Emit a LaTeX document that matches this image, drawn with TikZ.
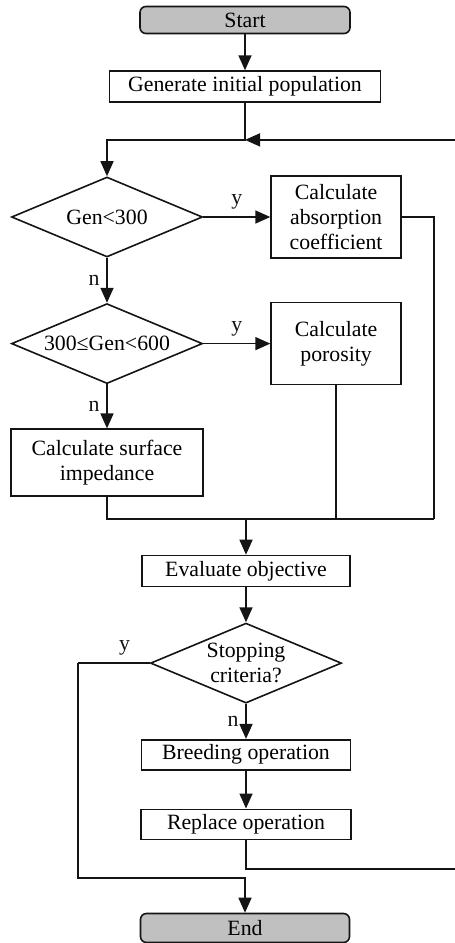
\documentclass[tikz,border=0pt]{standalone}
\usepackage{fontspec}
\setmainfont{Liberation Serif}
\usetikzlibrary{arrows.meta,positioning,calc,shapes.geometric}
\definecolor{termgray}{RGB}{192,192,192}
\definecolor{linegray}{RGB}{20,20,20}
\tikzset{
  every node/.style={font=\fontsize{10.9}{12.5}\selectfont},
  blk/.style={draw=linegray, line width=0.8pt, fill=white, align=center, inner sep=1pt},
  term/.style={blk, fill=termgray, rounded corners=3pt},
  cond/.style={draw=linegray, line width=0.8pt, diamond, aspect=2.4, inner sep=1pt,
               minimum width=95.5pt, minimum height=40pt, align=center},
  line/.style={linegray, line width=0.8pt},
  flowarr/.style={-{Triangle[length=7.5pt, width=6.5pt]}, line},
}

\begin{document}
\begin{tikzpicture}[x=0.5pt, y=-0.5pt]
  \useasboundingbox (0,0) rectangle (455,943);
  % main column
  \node[term, minimum width=105pt, minimum height=13.5pt] (start) at (245,20) {Start};
  \node[blk, minimum width=135.5pt, minimum height=15.5pt, below=18pt of start] (gen) {Generate initial population};
  \node[cond] (d1) at (107,217) {Gen<300};
  \node[blk, minimum width=65pt, minimum height=41pt, right=33.5pt of d1] (absorb) {Calculate\\ absorption\\ coefficient};
  \node[cond, below=22.5pt of d1] (d2) {300≤Gen<600};
  \node[blk, minimum width=65pt, minimum height=41pt, right=33.5pt of d2] (poros) {Calculate\\ porosity};
  \node[blk, minimum width=96pt, minimum height=33.5pt, below=22pt of d2] (surf) {Calculate surface\\ impedance};
  \node[blk, minimum width=104pt, minimum height=15.5pt] (eval) at (246,571) {Evaluate objective};
  \node[cond, below=17.5pt of eval] (d3) {Stopping\\ criteria?};
  \node[blk, minimum width=104.5pt, minimum height=15pt, below=17.5pt of d3] (breed) {Breeding operation};
  \node[blk, minimum width=105pt, minimum height=15pt, below=19pt of breed] (repl) {Replace operation};
  \node[term, minimum width=104.5pt, minimum height=14.5pt] (end) at (245,928) {End};

  % junction points
  \coordinate (loop) at ($(gen.south)+(0,37)$);
  \coordinate (join) at (246,519);
  \coordinate (rgt) at (434,519);
  \coordinate (yes) at (78,878);
  \coordinate (back) at (456,869);

  % connectors
  \draw[flowarr] (start) -- (gen);
  \draw[flowarr] (gen.south) -- (loop) -| (d1.north);
  \draw[flowarr] (d1) -- node[above]{y} (absorb);
  \draw[flowarr] (d1) -- node[left]{n} (d2);
  \draw[flowarr] (d2) -- node[above]{y} (poros);
  \draw[flowarr] (d2) -- node[left]{n} (surf);
  \draw[line] (absorb.east) -| (rgt);
  \draw[line] (poros.south) -- (poros.south |- join);
  \draw[line] (surf.south) |- (rgt);
  \draw[flowarr] (join) -- (eval);
  \draw[flowarr] (eval) -- (d3);
  \draw[flowarr] (d3) -- node[left]{n} (breed);
  \draw[flowarr] (breed) -- (repl);
  \draw[line] (d3.west) -- node[above, pos=0.35]{y} (d3.west -| yes);
  \draw[flowarr] (d3.west -| yes) -- (yes) -| (end.north);
  \draw[flowarr] (repl.south) |- (back) |- (loop);
\end{tikzpicture}
\end{document}
